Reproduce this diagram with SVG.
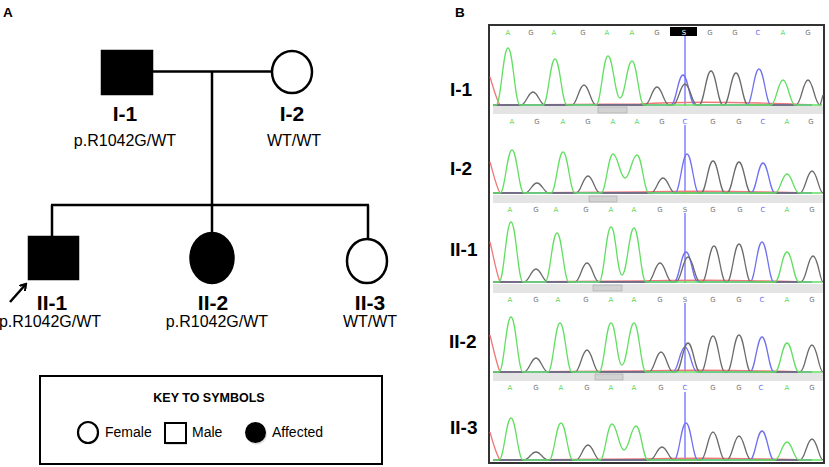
<svg xmlns="http://www.w3.org/2000/svg" width="829" height="467" viewBox="0 0 829 467">
<defs>
<style>
.sym{stroke:#000;stroke-width:2.5}
.ln{stroke:#000;stroke-width:2.5;fill:none}
.t{font-family:"Liberation Sans",Arial,sans-serif;fill:#000}
.id{font-weight:bold;font-size:21px;text-anchor:middle}
.gt{font-size:16px;text-anchor:middle}
.key{font-size:14px}
.pl{font-weight:bold;font-size:13.5px}
.rl{font-weight:bold;font-size:19px}
.tr{fill:none;stroke-width:1.3;stroke-linejoin:round}
.g{stroke:#62df62}.k{stroke:#6a6a6a}.b{stroke:#7070f0}.r{stroke:#f07878}
.band{fill:#e4e4e4}
.btn{fill:#d2d2d2;stroke:#a8a8a8;stroke-width:0.6}
.bl{font-family:"DejaVu Sans",sans-serif;font-size:7px;text-anchor:middle}
.bA{fill:#5fd85f}.bG{fill:#777}.bC{fill:#6a6af0}
.cur{stroke:#8080ff;stroke-width:1.5}
</style>
<marker id="ah" markerWidth="8" markerHeight="8" refX="6" refY="4" orient="auto" markerUnits="userSpaceOnUse">
<path d="M0,0 L6,4 L0,8" fill="none" stroke="#000" stroke-width="2.2"/>
</marker>
</defs>
<rect width="829" height="467" fill="#fff"/>

<text class="t pl" x="3" y="17">A</text>
<text class="t pl" x="455" y="17">B</text>

<g id="connectors">
<line class="ln" x1="152" y1="71.5" x2="272" y2="71.5"/>
<line class="ln" x1="212" y1="71.5" x2="212" y2="205"/>
<line class="ln" x1="51" y1="205" x2="369" y2="205"/>
<line class="ln" x1="52" y1="205" x2="52" y2="237"/>
<line class="ln" x1="212" y1="205" x2="212" y2="233"/>
<line class="ln" x1="368" y1="205" x2="368" y2="239"/>
<line class="ln" x1="10" y1="302" x2="26" y2="284" marker-end="url(#ah)"/>
</g>

<g id="I-1">
<rect class="sym" x="102" y="51" width="50" height="43" fill="#000"/>
<text class="t id" x="125" y="121">I-1</text>
<text class="t gt" x="125" y="146">p.R1042G/WT</text>
</g>
<g id="I-2">
<ellipse class="sym" cx="292" cy="72" rx="20" ry="21" fill="#fff"/>
<text class="t id" x="292" y="121">I-2</text>
<text class="t gt" x="294" y="146">WT/WT</text>
</g>
<g id="II-1">
<rect class="sym" x="29" y="237" width="49" height="42" fill="#000"/>
<text class="t id" x="52" y="310">II-1</text>
<text class="t gt" x="50" y="327">p.R1042G/WT</text>
</g>
<g id="II-2">
<ellipse class="sym" cx="212" cy="258" rx="21.5" ry="25" fill="#000"/>
<text class="t id" x="213" y="310">II-2</text>
<text class="t gt" x="217" y="327">p.R1042G/WT</text>
</g>
<g id="II-3">
<ellipse class="sym" cx="367" cy="261" rx="20" ry="22" fill="#fff"/>
<text class="t id" x="370" y="310">II-3</text>
<text class="t gt" x="370" y="327">WT/WT</text>
</g>

<g id="key">
<rect x="40" y="376" width="342" height="88" fill="#fff" stroke="#000" stroke-width="2"/>
<text class="t" x="209" y="402" font-size="12.5" font-weight="bold" text-anchor="middle">KEY TO SYMBOLS</text>
<ellipse cx="89" cy="434" rx="10" ry="10.5" fill="#ddd"/>
<ellipse cx="88" cy="432.5" rx="10" ry="10.5" fill="#fff" stroke="#000" stroke-width="2.2"/>
<text class="t key" x="105" y="437">Female</text>
<rect x="166" y="425" width="21" height="20" fill="#ddd"/>
<rect x="165" y="423" width="21" height="20" fill="#fff" stroke="#000" stroke-width="2"/>
<text class="t key" x="192" y="437">Male</text>
<ellipse cx="256.5" cy="434" rx="10.5" ry="10.5" fill="#ddd"/>
<ellipse cx="255.5" cy="432.5" rx="10.5" ry="10.5" fill="#000"/>
<text class="t key" x="272" y="437">Affected</text>
</g>

<g id="chromatograms">
<rect x="489" y="25" width="335" height="438" fill="#fff" stroke="#333" stroke-width="2"/>
<g id="bands">
<rect class="band" x="493" y="106" width="330" height="8"/>
<rect class="btn" x="598" y="107" width="29" height="6"/>
<rect class="band" x="493" y="195" width="330" height="8"/>
<rect class="btn" x="589" y="196" width="28" height="6"/>
<rect class="band" x="493" y="284" width="330" height="9"/>
<rect class="btn" x="593" y="285" width="29" height="6"/>
<rect class="band" x="493" y="373" width="330" height="8"/>
<rect class="btn" x="595" y="374" width="28" height="6"/>
</g>
<g id="cursors">
<line class="cur" x1="685" y1="36" x2="685" y2="106"/>
<line class="cur" x1="685" y1="125" x2="685" y2="194"/>
<line class="cur" x1="685" y1="213" x2="685" y2="283"/>
<line class="cur" x1="685" y1="303" x2="685" y2="372"/>
<line class="cur" x1="685" y1="392" x2="685" y2="461"/>
</g>
<g id="traces">
<path class="tr r" d="M490,77 C493,86 496,99 500,105 L640,104 C670,102 720,102 760,103 C790,104 800,104 812,105"/>
<path class="tr b" d="M493,105 L671,105 C676,105 678,75 683,75 S690,105 695,105 L747,105 C752,105 754,69 759,69 S766,105 771,105 L812,105"/>
<path class="tr k" d="M493,105 L521,105 C526,105 528,92 533,92 S540,105 545,105 L572,105 C577,105 579,85 584,85 S591,105 596,105 L645,105 C650,105 652,87 657,87 S664,105 669,105 L673,105 C678,105 680,84 685,84 S692,105 697,105 L699,105 C704,105 706,71 711,71 S718,105 723,105 L724,105 C729,105 731,73 736,73 S743,105 748,105 L796,105 C801,105 803,80 808,80 S815,105 820,105 C821,104 822,98 823,95"/>
<path class="tr g" d="M493,105 L496,105 C501,105 503,48 508,48 S515,105 520,105 L543,105 C548,105 550,59 555,59 S562,105 567,105 L596,105 C601,105 603,56 608,56 C613,56 615,98 620,98 C625,98 627,61 632,61 S639,105 644,105 L771,105 C776,105 778,80 783,80 S790,105 795,105 L822,105"/>

<path class="tr r" d="M490,162 C493,172 496,186 500,193 L640,192 C680,191 720,191 760,192 C790,192 800,193 812,193"/>
<path class="tr b" d="M493,193 L675,193 C680,193 682,154 687,154 S694,193 699,193 L751,193 C756,193 758,163 763,163 S770,193 775,193 L812,193"/>
<path class="tr k" d="M493,193 L525,193 C530,193 532,183 537,183 S544,193 549,193 L576,193 C581,193 583,176 588,176 S595,193 600,193 L651,193 C656,193 658,178 663,178 S670,193 675,193 L701,193 C706,193 708,161 713,161 S720,193 725,193 L727,193 C732,193 734,162 739,162 S746,193 751,193 L800,193 C805,193 807,171 812,171 S819,193 823,193"/>
<path class="tr g" d="M493,193 L500,193 C505,193 507,150 512,150 S519,193 524,193 L551,193 C556,193 558,152 563,152 S570,193 575,193 L601,193 C606,193 608,154 613,154 C618,154 620,178 625,178 C630,178 632,155 637,155 S644,193 649,193 L775,193 C780,193 782,174 787,174 S794,193 799,193 L822,193"/>

<path class="tr r" d="M490,242 C493,254 496,272 500,282 L640,281 C680,280 720,280 760,281 C790,281 800,282 812,282"/>
<path class="tr b" d="M493,282 L674,282 C679,282 681,252 686,252 S693,282 698,282 L750,282 C755,282 757,242 762,242 S769,282 774,282 L812,282"/>
<path class="tr k" d="M493,282 L524,282 C529,282 531,269 536,269 S543,282 548,282 L575,282 C580,282 582,263 587,263 S594,282 599,282 L648,282 C653,282 655,263 660,263 S667,282 672,282 L676,282 C681,282 683,257 688,257 S695,282 700,282 L702,282 C707,282 709,246 714,246 S721,282 726,282 L727,282 C732,282 734,244 739,244 S746,282 751,282 L801,282 C806,282 808,256 813,256 S820,282 823,282"/>
<path class="tr g" d="M493,282 L499,282 C504,282 506,222 511,222 S518,282 523,282 L545,282 C550,282 552,233 557,233 S564,282 569,282 L599,282 C604,282 606,227 611,227 C616,227 617,275 622,275 C627,275 629,228 634,228 S641,282 646,282 L775,282 C780,282 782,252 787,252 S794,282 799,282 L822,282"/>

<path class="tr r" d="M490,335 C493,347 496,362 500,372 L640,371 C680,370 720,370 760,371 C790,371 800,372 812,372"/>
<path class="tr b" d="M493,372 L673,372 C678,372 680,347 685,347 S692,372 697,372 L750,372 C755,372 757,337 762,337 S769,372 774,372 L812,372"/>
<path class="tr k" d="M493,372 L524,372 C529,372 531,358 536,358 S543,372 548,372 L575,372 C580,372 582,350 587,350 S594,372 599,372 L649,372 C654,372 656,352 661,352 S668,372 673,372 L676,372 C681,372 683,343 688,343 S695,372 700,372 L701,372 C706,372 708,336 713,336 S720,372 725,372 L727,372 C732,372 734,335 739,335 S746,372 751,372 L800,372 C805,372 807,345 812,345 S819,372 823,372"/>
<path class="tr g" d="M493,372 L499,372 C504,372 506,317 511,317 S518,372 523,372 L548,372 C553,372 555,323 560,323 S567,372 572,372 L599,372 C604,372 606,323 611,323 C616,323 617,365 622,365 C627,365 629,323 634,323 S641,372 646,372 L775,372 C780,372 782,343 787,343 S794,372 799,372 L822,372"/>

<path class="tr r" d="M490,432 C493,443 496,454 500,460 L640,459 C680,458 720,458 760,459 C790,459 800,460 812,460"/>
<path class="tr b" d="M493,460 L674,460 C679,460 681,423 686,423 S693,460 698,460 L750,460 C755,460 757,431 762,431 S769,460 774,460 L812,460"/>
<path class="tr k" d="M493,460 L524,460 C529,460 531,452 536,452 S543,460 548,460 L576,460 C581,460 583,445 588,445 S595,460 600,460 L650,460 C655,460 657,447 662,447 S669,460 674,460 L701,460 C706,460 708,432 713,432 S720,460 725,460 L727,460 C732,460 734,436 739,436 S746,460 751,460 L800,460 C805,460 807,439 812,439 S819,460 823,460"/>
<path class="tr g" d="M493,460 L499,460 C504,460 506,418 511,418 S518,460 523,460 L549,460 C554,460 556,423 561,423 S568,460 573,460 L600,460 C605,460 607,424 612,424 C617,424 619,450 624,450 C629,450 631,426 636,426 S643,460 648,460 L775,460 C780,460 782,442 787,442 S794,460 799,460 L822,460"/>
</g>
<g id="bases">
<rect x="670" y="27" width="27" height="9" fill="#000"/>
<text class="bl" x="684" y="34.5" fill="#fff">S</text>
<text class="bl bA" x="508" y="34.5">A</text><text class="bl bG" x="531" y="34.5">G</text><text class="bl bA" x="554" y="34.5">A</text><text class="bl bG" x="583" y="34.5">G</text><text class="bl bA" x="607" y="34.5">A</text><text class="bl bA" x="632" y="34.5">A</text><text class="bl bG" x="657" y="34.5">G</text><text class="bl bG" x="710" y="34.5">G</text><text class="bl bG" x="735" y="34.5">G</text><text class="bl bC" x="758" y="34.5">C</text><text class="bl bA" x="783" y="34.5">A</text><text class="bl bG" x="808" y="34.5">G</text>
<text class="bl bA" x="512" y="123.5">A</text><text class="bl bG" x="537" y="123.5">G</text><text class="bl bA" x="563" y="123.5">A</text><text class="bl bG" x="588" y="123.5">G</text><text class="bl bA" x="613" y="123.5">A</text><text class="bl bA" x="637" y="123.5">A</text><text class="bl bG" x="662" y="123.5">G</text><text class="bl bC" x="685" y="123.5">C</text><text class="bl bG" x="713" y="123.5">G</text><text class="bl bG" x="739" y="123.5">G</text><text class="bl bC" x="763" y="123.5">C</text><text class="bl bA" x="787" y="123.5">A</text><text class="bl bG" x="811" y="123.5">G</text>
<text class="bl bA" x="510" y="211.5">A</text><text class="bl bG" x="536" y="211.5">G</text><text class="bl bA" x="556" y="211.5">A</text><text class="bl bG" x="586" y="211.5">G</text><text class="bl bA" x="611" y="211.5">A</text><text class="bl bA" x="634" y="211.5">A</text><text class="bl bG" x="660" y="211.5">G</text><text class="bl bG" x="685" y="211.5">S</text><text class="bl bG" x="713" y="211.5">G</text><text class="bl bG" x="740" y="211.5">G</text><text class="bl bC" x="763" y="211.5">C</text><text class="bl bA" x="787" y="211.5">A</text><text class="bl bG" x="812" y="211.5">G</text>
<text class="bl bA" x="510" y="301.5">A</text><text class="bl bG" x="536" y="301.5">G</text><text class="bl bA" x="558" y="301.5">A</text><text class="bl bG" x="586" y="301.5">G</text><text class="bl bA" x="611" y="301.5">A</text><text class="bl bA" x="634" y="301.5">A</text><text class="bl bG" x="660" y="301.5">G</text><text class="bl bG" x="685" y="301.5">S</text><text class="bl bG" x="713" y="301.5">G</text><text class="bl bG" x="739" y="301.5">G</text><text class="bl bC" x="762" y="301.5">C</text><text class="bl bA" x="787" y="301.5">A</text><text class="bl bG" x="812" y="301.5">G</text>
<text class="bl bA" x="510" y="389.5">A</text><text class="bl bG" x="536" y="389.5">G</text><text class="bl bA" x="561" y="389.5">A</text><text class="bl bG" x="587" y="389.5">G</text><text class="bl bA" x="611" y="389.5">A</text><text class="bl bA" x="634" y="389.5">A</text><text class="bl bG" x="661" y="389.5">G</text><text class="bl bC" x="685" y="389.5">C</text><text class="bl bG" x="713" y="389.5">G</text><text class="bl bG" x="739" y="389.5">G</text><text class="bl bC" x="761" y="389.5">C</text><text class="bl bA" x="787" y="389.5">A</text><text class="bl bG" x="812" y="389.5">G</text>
</g>
<g id="row-labels">
<text class="t rl" x="450" y="96">I-1</text>
<text class="t rl" x="450" y="175">I-2</text>
<text class="t rl" x="450" y="256">II-1</text>
<text class="t rl" x="449" y="348">II-2</text>
<text class="t rl" x="450" y="434">II-3</text>
</g>
</g>
</svg>
